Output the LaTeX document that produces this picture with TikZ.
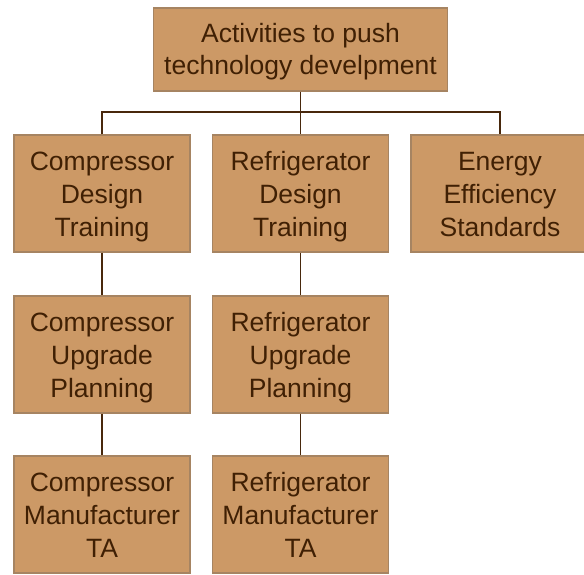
\documentclass[tikz,border=0pt]{standalone}
\usepackage{fontspec}
\setmainfont{Liberation Sans}
\definecolor{boxfill}{RGB}{204,153,102}
\definecolor{boxline}{RGB}{166,132,98}
\definecolor{boxtext}{RGB}{64,32,4}
\definecolor{conn}{RGB}{72,40,12}
\newcommand{\boxtxt}[1]{\raisebox{-3.5pt}[\height][\depth]{\begin{tabular}{@{}c@{}}#1\end{tabular}}}
\begin{document}
\begin{tikzpicture}[x=1pt,y=-1pt,
  orgbox/.style={draw=boxline, fill=boxfill, line width=1.2pt, text=boxtext,
    align=center, inner sep=0pt, minimum width=176pt, minimum height=117pt,
    font=\fontsize{26.5}{33}\selectfont},
  topbox/.style={orgbox, minimum width=294pt, minimum height=83pt,
    font=\fontsize{26.5}{32.5}\selectfont},
  link/.style={draw=conn, line width=1.5pt}]
\useasboundingbox (0,0) rectangle (584,574);
\clip (0,0) rectangle (584,574);
\node[topbox] (top) at (300.5,49.5) {\raisebox{-2.5pt}[\height][\depth]{\begin{tabular}{@{}c@{}}Activities to push\\technology develpment\end{tabular}}};
\node[orgbox] (c1) at (102,193.5) {\boxtxt{Compressor\\Design\\Training}};
\node[orgbox] (r1) at (300.5,193.5) {\boxtxt{Refrigerator\\Design\\Training}};
\node[orgbox, minimum width=178pt] (e1) at (500,193.5) {\boxtxt{Energy\\Efficiency\\Standards}};
\node[orgbox] (c2) at (102,354.5) {\boxtxt{Compressor\\Upgrade\\Planning}};
\node[orgbox] (r2) at (300.5,354.5) {\boxtxt{Refrigerator\\Upgrade\\Planning}};
\node[orgbox] (c3) at (102,514.5) {\boxtxt{Compressor\\Manufacturer\\TA}};
\node[orgbox] (r3) at (300.5,514.5) {\boxtxt{Refrigerator\\Manufacturer\\TA}};
\coordinate (bus) at (300.5,112);
\draw[link] (top.south) -- (bus);
\draw[link] (c1.north) |- (bus) -| (e1.north);
\draw[link] (bus) -- (r1.north);
\draw[link] (c1) -- (c2);
\draw[link] (c2) -- (c3);
\draw[link] (r1) -- (r2);
\draw[link] (r2) -- (r3);
\end{tikzpicture}
\end{document}
